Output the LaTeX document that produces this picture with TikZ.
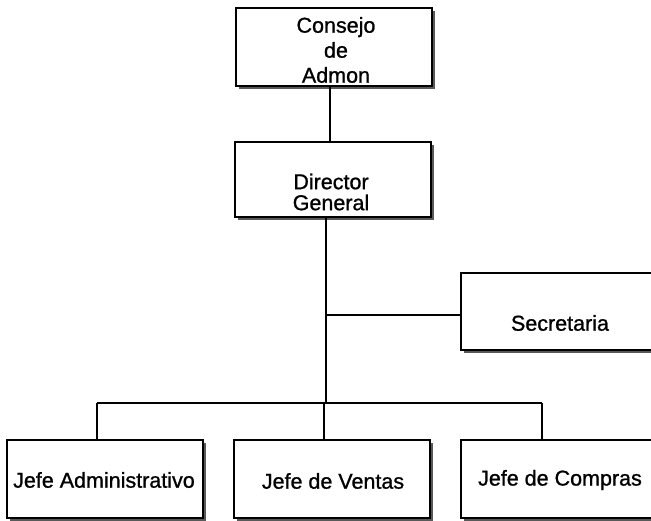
\documentclass[tikz,border=0pt]{standalone}
\usepackage{fontspec}
\setmainfont[FakeBold=1]{Liberation Sans}
\usetikzlibrary{shadows}
\begin{document}
\begin{tikzpicture}[x=1pt,y=-1pt,
  box/.style={draw, line width=1.8pt, fill=white, minimum width=196pt,
    minimum height=78pt, inner sep=0pt,
    drop shadow={shadow xshift=3pt, shadow yshift=-3pt, fill=black!65, opacity=1}},
  lbl/.style={align=center, inner sep=0pt, font=\fontsize{21.5}{25}\selectfont},
  link/.style={line width=1.5pt}]
\useasboundingbox (0,0) rectangle (651,521);
\clip (0,0) rectangle (651,521);

% boxes
\node[box] (consejo) at (334,47) {};
\node[box, minimum height=75pt] (director) at (333,179.5) {};
\node[box, minimum height=77pt] (secretaria) at (559,311.5) {};
\node[box] (admin) at (105,479) {};
\node[box] (ventas) at (332,479) {};
\node[box] (compras) at (559,479) {};

% labels
\node[lbl] (tconsejo) at (336,50) {Consejo\\de\\Admon};
\node[lbl, font=\fontsize{21.5}{21}\selectfont] (tdirector) at (331,192) {Director\\General};
\node[lbl] (tsecretaria) at (560,323) {Secretaria};
\node[lbl] (tadmin) at (104,480) {Jefe Administrativo};
\node[lbl] (tventas) at (333,481) {Jefe de Ventas};
\node[lbl] (tcompras) at (560,480) {Jefe de Compras};

% junction points
\coordinate (branch) at (326,315);
\coordinate (hub) at (326,403);
\coordinate (busL) at (97,403);
\coordinate (busR) at (542,403);
\coordinate (busV) at (324,403);

% connectors
\draw[link] ([xshift=-4pt]consejo.south) -- ([xshift=-3pt]director.north);
\draw[link] ([xshift=-7pt]director.south) -- (branch) -- (hub);
\draw[link] (branch) -- (secretaria.west |- branch);
\draw[link] (busL) -- (busR);
\draw[link] (busL) -- (busL |- admin.north);
\draw[link] (busV) -- (busV |- ventas.north);
\draw[link] (busR) -- (busR |- compras.north);
\end{tikzpicture}
\end{document}
